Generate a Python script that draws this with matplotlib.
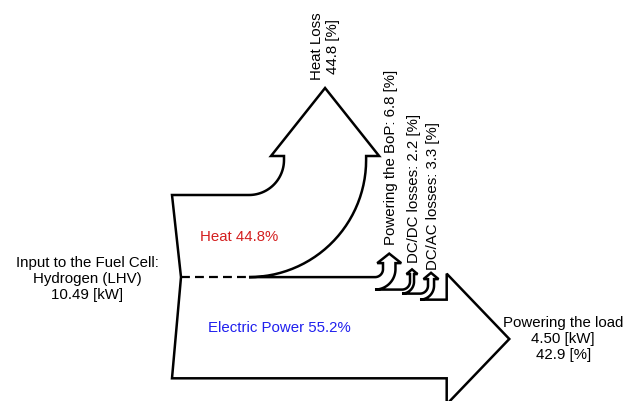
import numpy as np
import matplotlib.pyplot as plt
from matplotlib.path import Path
from matplotlib.patches import PathPatch

plt.rcParams['font.family'] = ['Liberation Sans', 'DejaVu Sans']

# energy balance of the fuel cell system, percent of the hydrogen input
input_kw = 10.49
load_kw = 4.50
heat_pct = 44.8
electric_pct = 55.2
loss_names = ['Powering the BoP', 'DC/DC losses', 'DC/AC losses']
loss_pct = [6.8, 2.2, 3.3]
load_pct = 42.9

# drawing in pixel units (1 % of flow = SCALE px)
SCALE = 1.833
X0, Y0 = 172, 195          # top left corner of the input edge
KINK = 9                   # how far the input edge bends in
heat_x, heat_r, heat_shaft, heat_sh, heat_head = 249, 35, 4, 13, 68
loss_x = [375, 402, 420]
loss_r = 8
loss_shaft = [6, 7.5, 6.5]
loss_sh = [5.75, 3.5, 4.5]
loss_head = [9.5, 4.7, 6.3]
load_x, load_sh, load_head = 446.7, 26, 62.6


def up_arrow(xs, ytop, w, r, shaft, sh, head):
    # arc up from the top edge, shaft, head, arc back down
    cx, cy = xs, ytop - r
    t = np.linspace(0, np.pi / 2, 30)
    pts = [(cx + r * np.sin(a), cy + r * np.cos(a)) for a in t]
    ys = cy - shaft
    xl, xr = cx + r, cx + r + w
    tip = ((xl + xr) / 2, ys - head)
    pts += [(xl, ys), (xl - sh, ys), tip, (xr + sh, ys), (xr, ys)]
    R = r + w
    pts += [(cx + R * np.sin(a), cy + R * np.cos(a)) for a in t[::-1]]
    return pts, tip


fig = plt.figure(figsize=(6.38, 4.01), dpi=100)
ax = fig.add_axes([0, 0, 1, 1])
ax.set_xlim(0, 638)
ax.set_ylim(401, 0)
ax.axis('off')

w_heat = heat_pct * SCALE
y_split = Y0 + w_heat
verts = [(X0, Y0)]
heat_pts, heat_tip = up_arrow(heat_x, Y0, w_heat, heat_r, heat_shaft, heat_sh, heat_head)
verts += heat_pts

y = y_split
tips = []
for i, p in enumerate(loss_pct):
    w = p * SCALE
    pts, tip = up_arrow(loss_x[i], y, w, loss_r, loss_shaft[i], loss_sh[i], loss_head[i])
    verts += pts
    tips.append(tip)
    y += w

w_load = load_pct * SCALE
y_bot = y + w_load
yc = (y + y_bot) / 2
load_tip = (load_x + load_head, yc)
verts += [(load_x, y), (load_x, y - load_sh), load_tip,
          (load_x, y_bot + load_sh), (load_x, y_bot), (X0, y_bot),
          (X0 + KINK, y_split), (X0, Y0)]

path = Path(verts, [Path.MOVETO] + [Path.LINETO] * (len(verts) - 2) + [Path.CLOSEPOLY])
ax.add_patch(PathPatch(path, facecolor='white', edgecolor='black', lw=1.8, joinstyle='miter'))

ax.plot([X0 + KINK, heat_x], [y_split, y_split], color='black', lw=1.6,
        linestyle=(0, (4.0, 2.3)))

fs = 10.8
ax.text(heat_tip[0], heat_tip[1] - 8, 'Heat Loss\n%.1f [%%]' % heat_pct, rotation=90,
        ha='center', va='bottom', fontsize=fs, multialignment='center', linespacing=1.2)
offs = [9, 6, 3]
for i, name in enumerate(loss_names):
    ax.text(tips[i][0] + 2, tips[i][1] - offs[i], '%s: %.1f [%%]' % (name, loss_pct[i]),
            rotation=90, ha='center', va='bottom', fontsize=fs)

ax.text(87, 279, 'Input to the Fuel Cell:\nHydrogen (LHV)\n%.2f [kW]' % input_kw,
        ha='center', va='center', fontsize=fs, linespacing=1.15)
ax.text(load_tip[0] + 54, load_tip[1],
        'Powering the load\n%.2f [kW]\n%.1f [%%]' % (load_kw, load_pct),
        ha='center', va='center', fontsize=fs, linespacing=1.15)
ax.text(239, 237, 'Heat %.1f%%' % heat_pct, color='#d42020', ha='center', va='center', fontsize=fs)
ax.text(279, 328, 'Electric Power %.1f%%' % electric_pct, color='#2020ee',
        ha='center', va='center', fontsize=fs)

fig.savefig('out.png', dpi=100)
